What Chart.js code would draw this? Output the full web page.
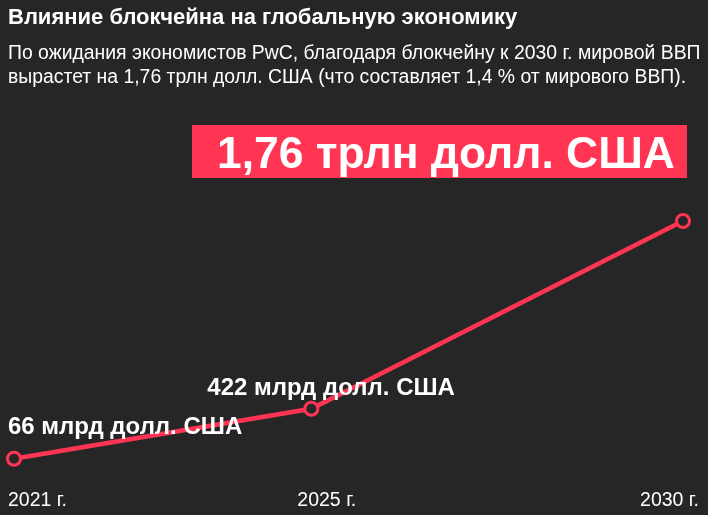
<!DOCTYPE html>
<html>
<head>
<meta charset="utf-8">
<script src="https://cdn.jsdelivr.net/npm/chart.js@4"></script>
<style>
  html, body { margin: 0; padding: 0; background: #262626; }
  canvas { display: block; }
</style>
</head>
<body>
<canvas id="c" width="708" height="515"></canvas>
<script>
const titleText = "Влияние блокчейна на глобальную экономику";
const subtitleLines = [
  "По ожидания экономистов PwC, благодаря блокчейну к 2030 г. мировой ВВП",
  "вырастет на 1,76 трлн долл. США (что составляет 1,4 % от мирового ВВП)."
];
const years = [2021, 2025, 2030];
const yearLabels = ["2021 г.", "2025 г.", "2030 г."];
const values = [66, 422, 1760];            // млрд долл. США
const valueLabels = ["66 млрд долл. США", "422 млрд долл. США", "1,76 трлн долл. США"];

const RED = "#ff3553";
const BG = "#262626";
const FONT = "'Liberation Sans', Arial, sans-serif";

const textPlugin = {
  id: "texts",
  beforeDraw(chart) {
    const ctx = chart.ctx;
    ctx.save();
    ctx.fillStyle = BG;
    ctx.fillRect(0, 0, chart.width, chart.height);
    ctx.fillStyle = "#ffffff";
    ctx.textBaseline = "alphabetic";
    ctx.textAlign = "left";
    ctx.font = "bold 22px " + FONT;
    ctx.fillText(titleText, 8, 24);
    ctx.font = "19.4px " + FONT;
    ctx.fillText(subtitleLines[0], 8, 59);
    ctx.fillText(subtitleLines[1], 8, 83);
    ctx.restore();
  },
  afterDatasetsDraw(chart) {
    const ctx = chart.ctx;
    const xs = chart.scales.x, ys = chart.scales.y;
    ctx.save();
    ctx.textBaseline = "alphabetic";
    // x tick labels
    ctx.fillStyle = "#ffffff";
    ctx.font = "19.5px " + FONT;
    const tickOffsets = [-6, -14, 16];
    yearLabels.forEach((lab, i) => {
      const px = xs.getPixelForValue(years[i]);
      ctx.textAlign = i === yearLabels.length - 1 ? "right" : "left";
      ctx.fillText(lab, px + tickOffsets[i], 506);
    });
    // value labels
    ctx.font = "bold 24px " + FONT;
    ctx.textAlign = "left";
    const p0x = xs.getPixelForValue(years[0]), p0y = ys.getPixelForValue(values[0]);
    ctx.fillText(valueLabels[0], p0x - 6, p0y - 25);
    const p1x = xs.getPixelForValue(years[1]), p1y = ys.getPixelForValue(values[1]);
    ctx.fillText(valueLabels[1], p1x - 104, p1y - 14);
    // big box
    const p2x = xs.getPixelForValue(years[2]), p2y = ys.getPixelForValue(values[2]);
    ctx.fillStyle = RED;
    ctx.fillRect(p2x - 491, p2y - 96, 495, 53);
    ctx.fillStyle = "#ffffff";
    ctx.font = "bold 44.4px " + FONT;
    ctx.fillText(valueLabels[2], p2x - 466, p2y - 53);
    ctx.restore();
  }
};

new Chart(document.getElementById("c"), {
  type: "line",
  data: {
    datasets: [{
      data: years.map((y, i) => ({ x: y, y: values[i] })),
      borderColor: RED,
      borderWidth: 4.5,
      pointRadius: 6.5,
      pointBorderWidth: 3,
      pointBackgroundColor: BG,
      pointBorderColor: RED,
      clip: false,
      tension: 0
    }]
  },
  options: {
    responsive: false,
    devicePixelRatio: 1,
    animation: false,
    layout: { padding: { left: 14, right: 25, top: 221, bottom: 47 } },
    plugins: { legend: { display: false }, tooltip: { enabled: false }, title: { display: false } },
    scales: {
      x: { type: "linear", min: 2021, max: 2030, display: false },
      y: { type: "linear", min: 0, max: 1760, display: false }
    }
  },
  plugins: [textPlugin]
});
</script>
</body>
</html>
